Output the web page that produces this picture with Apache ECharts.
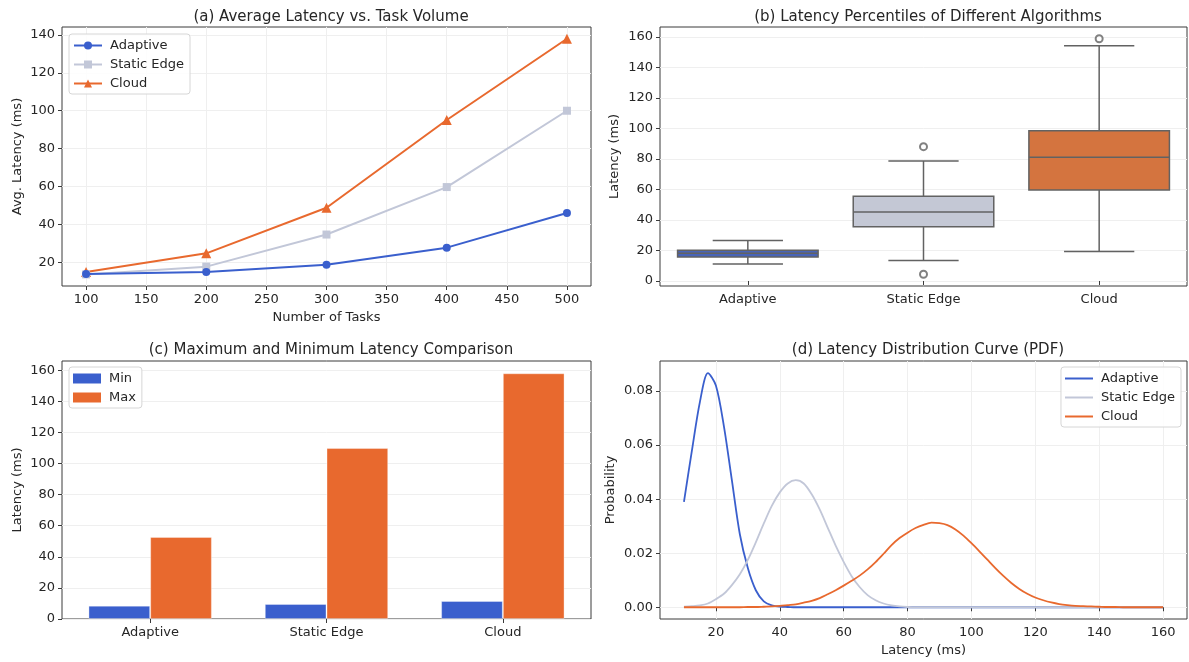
<!DOCTYPE html>
<html>
<head>
<meta charset="utf-8">
<title>Latency Analysis</title>
<script src="https://cdn.jsdelivr.net/npm/echarts@6/dist/echarts.min.js"></script>
<style>
  html, body { margin: 0; padding: 0; background: #ffffff; }
  #chart { width: 1189px; height: 662px; }
</style>
</head>
<body>
<div id="chart"></div>
<script>
// ---- (a) average latency vs. task volume ----
const taskCounts = [100, 200, 300, 400, 500];
const avgAdaptive = [14.0, 15.1, 18.9, 27.9, 46.1];
const avgStaticEdge = [13.8, 17.9, 34.8, 59.8, 100.0];
const avgCloud = [15.1, 24.9, 48.9, 95.1, 137.9];
const ticksTasks = [100, 150, 200, 250, 300, 350, 400, 450, 500];
const ticksAvg = [20, 40, 60, 80, 100, 120, 140];

// ---- (b) latency percentiles: [lower whisker, Q1, median, Q3, upper whisker] ----
const algorithms = ['Adaptive', 'Static Edge', 'Cloud'];
const boxAdaptive = [11.2, 15.8, 18.2, 20.2, 26.5];
const boxStaticEdge = [13.4, 35.5, 45.2, 55.5, 78.7];
const boxCloud = [19.3, 59.6, 81.1, 98.6, 154.3];
const outlierAlgo = [1, 1, 2];
const outlierValue = [88.1, 4.4, 158.9];
const ticksBox = [0, 20, 40, 60, 80, 100, 120, 140, 160];

// ---- (c) min / max latency ----
const minLatency = [8.6, 9.7, 11.6];
const maxLatency = [52.8, 110.0, 158.1];
const ticksBar = [0, 20, 40, 60, 80, 100, 120, 140, 160];

// ---- (d) latency distribution curves, sampled every 2.5 ms from 10 to 160 ----
const pdfX = [10, 12.5, 15, 17.5, 20, 22.5, 25, 27.5, 30, 32.5, 35, 37.5, 40, 42.5, 45, 47.5,
  50, 52.5, 55, 57.5, 60, 62.5, 65, 67.5, 70, 72.5, 75, 77.5, 80, 82.5, 85, 87.5,
  90, 92.5, 95, 97.5, 100, 102.5, 105, 107.5, 110, 112.5, 115, 117.5, 120, 122.5,
  125, 127.5, 130, 132.5, 135, 137.5, 140, 142.5, 145, 147.5, 150, 152.5, 155, 157.5, 160];
const pdfAdaptive = [0.039, 0.058, 0.076, 0.0866, 0.082, 0.067, 0.047, 0.027, 0.0145, 0.0063, 0.0022, 0.0007, 0.0002, 0.0001, 0, 0,
  0, 0, 0, 0, 0, 0, 0, 0, 0, 0, 0, 0, 0, 0, 0, 0,
  0, 0, 0, 0, 0, 0, 0, 0, 0, 0, 0, 0, 0, 0,
  0, 0, 0, 0, 0, 0, 0, 0, 0, 0, 0, 0, 0, 0, 0];
const pdfStaticEdge = [0.0002, 0.0004, 0.0007, 0.0014, 0.003, 0.005, 0.0082, 0.0122, 0.0175, 0.024, 0.031, 0.0375, 0.0425, 0.0458, 0.047, 0.0458,
  0.0418, 0.0362, 0.0295, 0.0228, 0.0168, 0.0115, 0.0075, 0.0045, 0.0026, 0.0014, 0.0007, 0.0003, 0.0001, 0, 0, 0,
  0, 0, 0, 0, 0, 0, 0, 0, 0, 0, 0, 0, 0, 0,
  0, 0, 0, 0, 0, 0, 0, 0, 0, 0, 0, 0, 0, 0, 0];
const pdfCloud = [0, 0, 0, 0, 0, 0, 0, 0, 0.0001, 0.0001, 0.0002, 0.0003, 0.0005, 0.0008, 0.0011, 0.0017,
  0.0024, 0.0034, 0.0048, 0.0063, 0.0080, 0.0098, 0.0117, 0.0140, 0.0167, 0.0198, 0.0230, 0.0256, 0.0276, 0.0293, 0.0305, 0.0313,
  0.0311, 0.0304, 0.0288, 0.0265, 0.0237, 0.0207, 0.0176, 0.0145, 0.0116, 0.0090, 0.0068, 0.0050, 0.0036, 0.0026,
  0.0018, 0.0012, 0.0008, 0.0005, 0.0004, 0.0003, 0.0002, 0.0001, 0.0001, 0, 0, 0, 0, 0, 0];
const ticksPdfX = [20, 40, 60, 80, 100, 120, 140, 160];
const ticksPdfY = [0, 0.02, 0.04, 0.06, 0.08];

const BLUE = '#3a5fcd';
const GRAY = '#c2c7d8';
const ORANGE = '#e8692e';
const BOX_FILL = ['#4863b6', '#c4c8d5', '#d4743f'];
const BOX_LINE = '#626262';
const FONT = 'DejaVu Sans';
const TEXT = '#262626';
const SPINE = '#3a3a3a';
const GRIDLINE = '#efefef';

const chart = echarts.init(document.getElementById('chart'), null, { renderer: 'canvas' });

function valueAxis(gridIndex, opts) {
  return Object.assign({
    gridIndex: gridIndex,
    type: 'value',
    axisLine: { show: false },
    axisTick: { show: true, length: 4, lineStyle: { color: SPINE, width: 1 }, customValues: opts.ticks },
    axisLabel: { customValues: opts.ticks, color: TEXT, fontFamily: FONT, fontSize: 13, margin: 7,
                 formatter: opts.formatter || (v => String(v)) },
    splitLine: { show: opts.split !== false, lineStyle: { color: GRIDLINE, width: 1 } },
    nameLocation: 'middle',
    nameTextStyle: { color: TEXT, fontFamily: FONT, fontSize: 13 }
  }, opts.extra);
}

function categoryAxis(gridIndex) {
  return {
    gridIndex: gridIndex,
    type: 'category',
    data: algorithms,
    axisLine: { show: false },
    axisTick: { show: true, alignWithLabel: true, length: 4, lineStyle: { color: SPINE, width: 1 } },
    axisLabel: { color: TEXT, fontFamily: FONT, fontSize: 13, margin: 7 },
    splitLine: { show: false }
  };
}

function boxRenderItem(params, api) {
  const idx = api.value(0);
  const lo = api.value(1), q1 = api.value(2), med = api.value(3), q3 = api.value(4), hi = api.value(5);
  const catW = api.size([1, 0])[0];
  const w = catW * 0.8;
  const cx = api.coord([idx, med])[0];
  const y = v => api.coord([idx, v])[1];
  const lineStyle = { stroke: BOX_LINE, lineWidth: 1.5, fill: null };
  return {
    type: 'group',
    children: [
      { type: 'line', shape: { x1: cx, y1: y(lo), x2: cx, y2: y(q1) }, style: lineStyle },
      { type: 'line', shape: { x1: cx, y1: y(q3), x2: cx, y2: y(hi) }, style: lineStyle },
      { type: 'line', shape: { x1: cx - w / 4, y1: y(lo), x2: cx + w / 4, y2: y(lo) }, style: lineStyle },
      { type: 'line', shape: { x1: cx - w / 4, y1: y(hi), x2: cx + w / 4, y2: y(hi) }, style: lineStyle },
      { type: 'rect', shape: { x: cx - w / 2, y: y(q3), width: w, height: y(q1) - y(q3) },
        style: { fill: BOX_FILL[idx], stroke: BOX_LINE, lineWidth: 1.5 } },
      { type: 'line', shape: { x1: cx - w / 2, y1: y(med), x2: cx + w / 2, y2: y(med) }, style: lineStyle }
    ]
  };
}

const boxRows = [boxAdaptive, boxStaticEdge, boxCloud].map((b, i) => [i].concat(b));
const outlierPoints = outlierAlgo.map((a, i) => [a, outlierValue[i]]);

const titleStyle = { color: TEXT, fontFamily: FONT, fontSize: 15, fontWeight: 'normal' };
const legendBox = {
  orient: 'vertical',
  backgroundColor: 'rgba(255,255,255,0.85)',
  borderColor: '#d6d6d6',
  borderWidth: 1,
  borderRadius: 3,
  itemGap: 4,
  textStyle: { color: TEXT, fontFamily: FONT, fontSize: 13, lineHeight: 15, padding: [0, 0, 0, 3] }
};

const option = {
  animation: false,
  backgroundColor: '#ffffff',
  title: [
    { text: '(a) Average Latency vs. Task Volume', left: 326, top: 5, textAlign: 'center', textStyle: titleStyle },
    { text: '(b) Latency Percentiles of Different Algorithms', left: 923, top: 5, textAlign: 'center', textStyle: titleStyle },
    { text: '(c) Maximum and Minimum Latency Comparison', left: 326, top: 338, textAlign: 'center', textStyle: titleStyle },
    { text: '(d) Latency Distribution Curve (PDF)', left: 923, top: 338, textAlign: 'center', textStyle: titleStyle }
  ],
  grid: [
    { left: 62, top: 27, width: 529, height: 259, show: true, borderColor: SPINE, borderWidth: 1, backgroundColor: 'transparent' },
    { left: 660, top: 27, width: 527, height: 259, show: true, borderColor: SPINE, borderWidth: 1, backgroundColor: 'transparent' },
    { left: 62, top: 361, width: 529, height: 258, show: true, borderColor: SPINE, borderWidth: 1, backgroundColor: 'transparent' },
    { left: 660, top: 361, width: 527, height: 258, show: true, borderColor: SPINE, borderWidth: 1, backgroundColor: 'transparent' }
  ],
  legend: [
    Object.assign({}, legendBox, {
      data: ['Adaptive', 'Static Edge', 'Cloud'],
      left: 69, top: 34, padding: [4, 6, 3, 4],
      itemWidth: 28, itemHeight: 10
    }),
    Object.assign({}, legendBox, {
      data: ['Min', 'Max'],
      left: 69, top: 367, padding: [4, 6, 3, 4],
      icon: 'rect', itemWidth: 28, itemHeight: 10,
      itemStyle: { borderWidth: 0 }
    }),
    Object.assign({}, legendBox, {
      data: ['Adaptive', 'Static Edge', 'Cloud'],
      right: 8, top: 367, padding: [4, 6, 3, 4],
      icon: 'rect', itemWidth: 28, itemHeight: 2,
      itemStyle: { borderWidth: 0 }
    })
  ],
  xAxis: [
    valueAxis(0, { ticks: ticksTasks, extra: { min: 80, max: 520, name: 'Number of Tasks', nameGap: 25 } }),
    categoryAxis(1),
    categoryAxis(2),
    valueAxis(3, { ticks: ticksPdfX, extra: { min: 2.5, max: 167.5, name: 'Latency (ms)', nameGap: 25 } })
  ],
  yAxis: [
    valueAxis(0, { ticks: ticksAvg, extra: { min: 7.7, max: 144.1, name: 'Avg. Latency (ms)', nameGap: 38 } }),
    valueAxis(1, { ticks: ticksBox, extra: { min: -3.3, max: 166.6, name: 'Latency (ms)', nameGap: 39 } }),
    valueAxis(2, { ticks: ticksBar, extra: { min: 0, max: 166, name: 'Latency (ms)', nameGap: 38 } }),
    valueAxis(3, { ticks: ticksPdfY, formatter: v => v.toFixed(2),
      extra: { min: -0.00434, max: 0.0911, name: 'Probability', nameGap: 43 } })
  ],
  series: [
    // (a)
    { name: 'Adaptive', type: 'line', xAxisIndex: 0, yAxisIndex: 0,
      data: taskCounts.map((t, i) => [t, avgAdaptive[i]]),
      symbol: 'circle', symbolSize: 8, color: BLUE, lineStyle: { width: 2 }, z: 5 },
    { name: 'Static Edge', type: 'line', xAxisIndex: 0, yAxisIndex: 0,
      data: taskCounts.map((t, i) => [t, avgStaticEdge[i]]),
      symbol: 'rect', symbolSize: 8, color: GRAY, lineStyle: { width: 2 }, z: 4 },
    { name: 'Cloud', type: 'line', xAxisIndex: 0, yAxisIndex: 0,
      data: taskCounts.map((t, i) => [t, avgCloud[i]]),
      symbol: 'triangle', symbolSize: 10, color: ORANGE, lineStyle: { width: 2 }, z: 3 },
    // (b)
    { type: 'custom', xAxisIndex: 1, yAxisIndex: 1, renderItem: boxRenderItem,
      data: boxRows, encode: { x: 0, y: [1, 2, 3, 4, 5] }, z: 3 },
    { type: 'scatter', xAxisIndex: 1, yAxisIndex: 1, data: outlierPoints,
      symbol: 'emptyCircle', symbolSize: 7, itemStyle: { color: BOX_LINE, borderWidth: 1.3 }, z: 4 },
    // (c)
    { name: 'Min', type: 'bar', xAxisIndex: 2, yAxisIndex: 2, data: minLatency,
      barWidth: '35%', barGap: '0%',
      itemStyle: { color: BLUE, borderColor: 'rgba(255,255,255,0.35)', borderWidth: 1 } },
    { name: 'Max', type: 'bar', xAxisIndex: 2, yAxisIndex: 2, data: maxLatency,
      barWidth: '35%', barGap: '0%',
      itemStyle: { color: ORANGE, borderColor: 'rgba(255,255,255,0.35)', borderWidth: 1 } },
    // (d)
    { name: 'Adaptive', type: 'line', xAxisIndex: 3, yAxisIndex: 3,
      data: pdfX.map((x, i) => [x, pdfAdaptive[i]]), showSymbol: false, symbol: 'none',
      smooth: 0.3, color: BLUE, lineStyle: { width: 1.8 }, z: 3 },
    { name: 'Static Edge', type: 'line', xAxisIndex: 3, yAxisIndex: 3,
      data: pdfX.map((x, i) => [x, pdfStaticEdge[i]]), showSymbol: false, symbol: 'none',
      smooth: 0.3, color: GRAY, lineStyle: { width: 1.8 }, z: 4 },
    { name: 'Cloud', type: 'line', xAxisIndex: 3, yAxisIndex: 3,
      data: pdfX.map((x, i) => [x, pdfCloud[i]]), showSymbol: false, symbol: 'none',
      smooth: 0.3, color: ORANGE, lineStyle: { width: 1.8 }, z: 5 }
  ]
};

chart.setOption(option);
</script>
</body>
</html>
